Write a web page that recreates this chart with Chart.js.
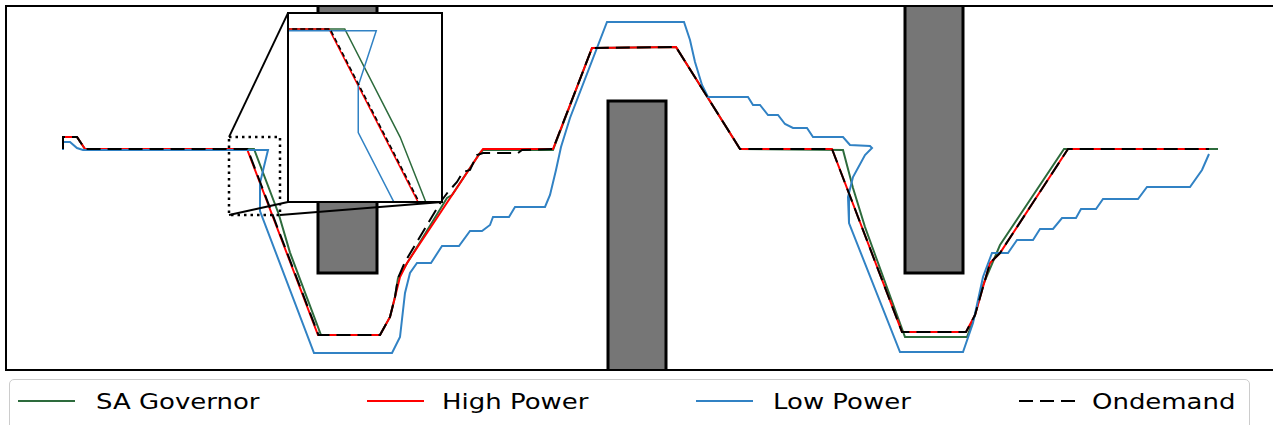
<!DOCTYPE html>
<html>
<head>
<meta charset="utf-8">
<script src="https://cdn.jsdelivr.net/npm/chart.js@4.4.1/dist/chart.umd.min.js"></script>
<style>
html,body{margin:0;padding:0;background:#fff;}
body{width:1273px;height:425px;overflow:hidden;position:relative;font-family:"DejaVu Sans",sans-serif;}
#main{position:absolute;left:0;top:0;}
#insetWrap{position:absolute;left:0;top:0;}
#insetWrap canvas{display:block;}
#legend{position:absolute;left:9px;top:379px;width:1241px;height:60px;border:1px solid #cccccc;border-radius:5px;box-sizing:border-box;background:#fff;}
.swatch{position:absolute;top:19px;}
.lbl{position:absolute;top:11px;font-size:22px;line-height:22px;white-space:nowrap;transform:scaleX(1.18);transform-origin:0 0;color:#000;}
</style>
</head>
<body>
<canvas id="main" width="1273" height="376"></canvas>
<div id="insetWrap"><canvas id="inset"></canvas></div>
<div id="legend"></div>
<script>
// ---------- data (trajectory positions, arbitrary units) ----------
const seriesNames = ['SA Governor', 'High Power', 'Low Power', 'Ondemand'];

const saGovX = [57,57,71,79,248,272.6,284,315,374,384,389,392,441,446,474,477,547,586,670,734,837,847,859,899,961,969,977,994,1058,1212];
const saGovY = [221,233,233,221,221,156.3,117.4,35,35,53,73,92,172,175,217,220,220,322,323,221,220,182,143,33,33,55,85,125,221,221];

const highX = [57,57,71,79,241,312,374,384,389,394,401,474,477,547,586,670,734,826,896,960,969,977,984,994,1062,1203];
const highY = [221,233,233,221,221,35,35,53,73,93,107,217,221,221,322,323,221,221,38,38,55,83,107,117,221,221];

const lowX = [57,57,64,71,77,262,254,254,308,386,394,399,404,411,425,436,453,464,476,484,487,503,509,539,544,550,555,564,601,678,684,689,696,702,742,747,754,762,772,779,787,801,807,837,844,864,866,859,847,842,843,894,957,967,977,986,1002,1011,1027,1034,1047,1056,1070,1075,1090,1097,1132,1141,1184,1196,1203];
const lowY = [220,228,228,222,220,220,187,159,17,17,33,77,97,107,107,124,124,139,139,145,153,153,163,163,175,200,223,252,348,348,330,308,285,273,273,265,265,255,255,246,242,242,233,233,225,224,222,215,193,173,147,18,18,47,93,117,117,130,130,141,141,152,152,161,161,171,171,183,183,200,216];

const ondX = [57,57,71,79,241.5,312.5,374,384,389,392,399,424,436,442,451,457,464,471,477,512,516,547,586,670,734,826,896,960,969,977,984,994,1062,1203];
const ondY = [221,233,233,221,221,35,35,53,73,92,108,150,170,178,188,198,200,215,217,217,220,221,322,323,221,221,38,38,55,83,107,117,221,221];

// obstacles: x extent, edge they are attached to, free edge
const obstacleLeft  = [312, 602, 899];
const obstacleRight = [371, 660, 957];
const obstacleBase  = [364, 0, 364];
const obstacleEnd   = [97, 269, 97];

// zoom region marker and inset placement
const zoomBoxX  = [223, 274];
const zoomBoxY  = [155, 233];
const insetBoxX = [282, 436];
const insetBoxY = [168, 357];
const insetXRange = [222.8, 291.2];
const insetYRange = [117.4, 230.6];

const mainXRange = [0, 1267];
const mainYRange = [0, 364];

// ---------- helpers ----------
const colors = ['#2d6b3c', '#ff0000', '#3182c4', '#000000'];
function pts(xs, ys) { return xs.map((x, i) => ({x: x, y: ys[i]})); }

function seriesDatasets(width, dash) {
  const base = {showLine: true, pointRadius: 0, pointHoverRadius: 0, fill: false, tension: 0,
                borderJoinStyle: 'miter', borderCapStyle: 'butt'};
  return [
    {label: seriesNames[0], data: pts(saGovX, saGovY), borderColor: colors[0], borderWidth: width, order: 4},
    {label: seriesNames[1], data: pts(highX, highY), borderColor: colors[1], borderWidth: width, order: 3},
    {label: seriesNames[2], data: pts(lowX, lowY), borderColor: colors[2], borderWidth: width, order: 2},
    {label: seriesNames[3], data: pts(ondX, ondY), borderColor: colors[3], borderWidth: width, borderDash: dash, order: 1}
  ].map(d => Object.assign({}, base, d));
}

const framePlugin = {
  id: 'frame',
  beforeDraw(chart, args, opts) {
    if (opts.whiteBg) {
      const c = chart.ctx;
      c.save(); c.fillStyle = '#fff'; c.fillRect(0, 0, chart.width, chart.height); c.restore();
    }
  },
  afterDatasetsDraw(chart, args, opts) {
    const {ctx, chartArea: {left, top, right, bottom}} = chart;
    ctx.save();
    ctx.strokeStyle = '#000';
    ctx.lineWidth = opts.width || 2;
    ctx.setLineDash([]);
    ctx.beginPath();
    if (opts.sides === 'all') {
      ctx.rect(left, top, right - left, bottom - top);
    } else {
      ctx.moveTo(right + 2, top); ctx.lineTo(left, top); ctx.lineTo(left, bottom); ctx.lineTo(right + 2, bottom);
    }
    ctx.stroke();
    ctx.restore();
  }
};

function hiddenScales(xr, yr) {
  return {
    x: {type: 'linear', min: xr[0], max: xr[1], display: false},
    y: {type: 'linear', min: yr[0], max: yr[1], display: false}
  };
}

// ---------- main chart ----------
const obstacleSets = obstacleLeft.map((l, i) => ({
  data: [{x: l, y: obstacleBase[i]}, {x: l, y: obstacleEnd[i]},
         {x: obstacleRight[i], y: obstacleEnd[i]}, {x: obstacleRight[i], y: obstacleBase[i]}],
  showLine: true, pointRadius: 0, tension: 0, borderColor: '#000', borderWidth: 3,
  backgroundColor: '#767676', fill: {value: obstacleBase[i]}, order: 6, borderJoinStyle: 'miter'
}));

const markerBox = {
  data: pts([zoomBoxX[0], zoomBoxX[1], zoomBoxX[1], zoomBoxX[0], zoomBoxX[0]],
            [zoomBoxY[1], zoomBoxY[1], zoomBoxY[0], zoomBoxY[0], zoomBoxY[1]]),
  showLine: true, pointRadius: 0, tension: 0, borderColor: '#000', borderWidth: 2.5,
  borderDash: [2.5, 4], fill: false, order: 0
};
const connectorSets = [
  [[zoomBoxX[0], insetBoxX[0]], [zoomBoxY[1], insetBoxY[1]]],
  [[zoomBoxX[0], insetBoxX[0]], [zoomBoxY[0], insetBoxY[0]]],
  [[zoomBoxX[1], insetBoxX[1]], [zoomBoxY[0], insetBoxY[0]]]
].map(c => ({
  data: pts(c[0], c[1]), showLine: true, pointRadius: 0, tension: 0,
  borderColor: '#000', borderWidth: 1.8, fill: false, order: 0
}));

const mainChart = new Chart(document.getElementById('main'), {
  type: 'scatter',
  data: {datasets: seriesDatasets(2, [14, 7]).concat(obstacleSets, [markerBox], connectorSets)},
  options: {
    responsive: false, animation: false, devicePixelRatio: 1,
    layout: {padding: {left: 6, top: 6, right: 0, bottom: 6}},
    scales: hiddenScales(mainXRange, mainYRange),
    plugins: {legend: {display: false}, tooltip: {enabled: false}, frame: {width: 2, sides: 'open'}},
    events: []
  },
  plugins: [framePlugin]
});

// ---------- inset chart ----------
const sx = mainChart.scales.x, sy = mainChart.scales.y;
const L = sx.getPixelForValue(insetBoxX[0]), R = sx.getPixelForValue(insetBoxX[1]);
const T = sy.getPixelForValue(insetBoxY[1]), B = sy.getPixelForValue(insetBoxY[0]);
const wrap = document.getElementById('insetWrap');
wrap.style.left = (L - 1) + 'px';
wrap.style.top = (T - 1) + 'px';
const insetCanvas = document.getElementById('inset');
insetCanvas.width = Math.round(R - L + 2);
insetCanvas.height = Math.round(B - T + 2);

new Chart(insetCanvas, {
  type: 'scatter',
  data: {datasets: seriesDatasets(1.5, [5, 3])},
  options: {
    responsive: false, animation: false, devicePixelRatio: 1,
    layout: {padding: 1},
    scales: hiddenScales(insetXRange, insetYRange),
    plugins: {legend: {display: false}, tooltip: {enabled: false}, frame: {width: 2, sides: 'all', whiteBg: true}},
    events: []
  },
  plugins: [framePlugin]
});

// ---------- legend ----------
const legendDash = [null, null, null, '14 7'];
const swatchLeft = [8, 357, 686, 1009];
const labelLeft = [86, 432, 763, 1082];
const legend = document.getElementById('legend');
seriesNames.forEach((name, i) => {
  const ns = 'http://www.w3.org/2000/svg';
  const svg = document.createElementNS(ns, 'svg');
  svg.setAttribute('class', 'swatch');
  svg.setAttribute('width', '57');
  svg.setAttribute('height', '4');
  svg.style.left = swatchLeft[i] + 'px';
  const ln = document.createElementNS(ns, 'line');
  ln.setAttribute('x1', '0'); ln.setAttribute('x2', '57');
  ln.setAttribute('y1', '2'); ln.setAttribute('y2', '2');
  ln.setAttribute('stroke', colors[i]);
  ln.setAttribute('stroke-width', '2');
  if (legendDash[i]) ln.setAttribute('stroke-dasharray', legendDash[i]);
  svg.appendChild(ln);
  legend.appendChild(svg);
  const lbl = document.createElement('div');
  lbl.className = 'lbl';
  lbl.style.left = labelLeft[i] + 'px';
  lbl.textContent = name;
  legend.appendChild(lbl);
});
</script>
</body>
</html>
